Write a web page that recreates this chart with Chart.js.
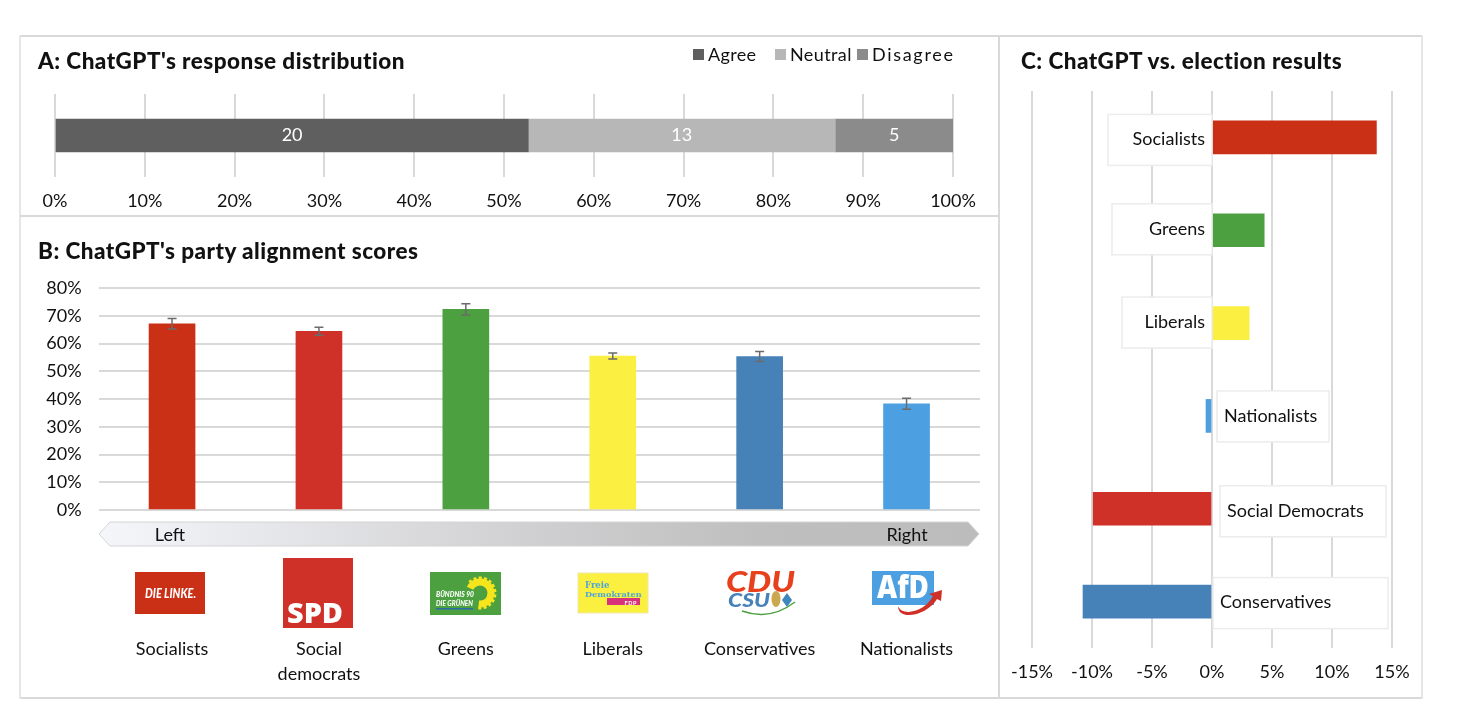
<!DOCTYPE html>
<html>
<head>
<meta charset="utf-8">
<title>ChatGPT party alignment</title>
<script src="https://cdn.jsdelivr.net/npm/chart.js@4"></script>
<style>
  html, body { margin: 0; background: #fff; }
  body { width: 1466px; height: 720px; position: relative; overflow: hidden; font-family: Lato, sans-serif; color: #111; }
  canvas { position: absolute; }
  .line { position: absolute; background: #d9d9d9; }
  .title { position: absolute; font-weight: 900; font-size: 22.5px; letter-spacing: .45px; line-height: 26px; white-space: nowrap; }
  .legend { position: absolute; font-size: 18px; line-height: 20px; white-space: nowrap; }
  .legend i { position: absolute; width: 11px; height: 11px; top: 5px; }
  svg { position: absolute; left: 0; top: 0; }
</style>
</head>
<body>
<div class="line" style="left:20px;top:35px;width:1402px;height:2px"></div>
<div class="line" style="left:20px;top:697px;width:1402px;height:2px"></div>
<div class="line" style="left:19px;top:35px;width:2px;height:664px;background:#e6e6e6"></div>
<div class="line" style="left:1421px;top:35px;width:2px;height:664px;background:#e6e6e6"></div>
<div class="line" style="left:998px;top:35px;width:2px;height:664px"></div>
<div class="line" style="left:20px;top:215px;width:979px;height:2px"></div>

<canvas id="chartA" width="978" height="180" style="left:20px;top:36px"></canvas>
<canvas id="chartB" width="978" height="480" style="left:20px;top:216px"></canvas>
<canvas id="chartC" width="421" height="660" style="left:1000px;top:36px"></canvas>

<div class="title" style="left:38px;top:48px">A: ChatGPT's response distribution</div>
<div class="title" style="left:38px;top:238px">B: ChatGPT's party alignment scores</div>
<div class="title" style="left:1021px;top:48px">C: ChatGPT vs. election results</div>
<div id="legendA"></div>

<svg width="1466" height="720" font-family="Lato, sans-serif">
  <defs>
    <linearGradient id="arrowFill" x1="0" x2="1" y1="0" y2="0">
      <stop offset="0" stop-color="#f5f6fa"/>
      <stop offset="0.5" stop-color="#cfcfd1"/>
      <stop offset="0.75" stop-color="#bfbfbf"/>
      <stop offset="1" stop-color="#bcbcbc"/>
    </linearGradient>
  </defs>
  <polygon points="99,534 110,522 968,522 979,534 968,546 110,546" fill="url(#arrowFill)" stroke="#d4d4d4"/>
  <text x="170" y="541" font-size="18" text-anchor="middle" fill="#111">Left</text>
  <text x="907" y="541" font-size="18" text-anchor="middle" fill="#111">Right</text>

  <!-- party logos -->
  <rect x="135" y="572" width="70" height="42" fill="#ca3015"/>
  <text x="145" y="598" font-size="12.5" font-weight="900" font-style="italic" textLength="51" lengthAdjust="spacingAndGlyphs" fill="#fff">DIE LINKE.</text>

  <rect x="283" y="558" width="70" height="70" fill="#cf3027"/>
  <text x="287" y="623" font-family="Open Sans, sans-serif" font-size="29" font-weight="800" textLength="56" lengthAdjust="spacingAndGlyphs" fill="#fff">SPD</text>

  <rect x="430" y="572" width="71" height="43" fill="#4ca03f"/>
  <circle cx="480" cy="593" r="11" fill="none" stroke="#f6e51c" stroke-width="7" stroke-dasharray="48 21" transform="rotate(205 480 593)"/>
  <circle cx="480" cy="593" r="15" fill="none" stroke="#f6e51c" stroke-width="3" stroke-dasharray="3 2.2 3 2.2 3 2.2 3 2.2 3 2.2 3 2.2 3 2.2 3 2.2 3 2.2 3 2.2 3 2.2 3 34" transform="rotate(225 480 593)"/>
  <text x="436" y="597" font-size="7.5" font-weight="900" font-style="italic" textLength="38" lengthAdjust="spacingAndGlyphs" fill="#fff">BÜNDNIS 90</text>
  <text x="436" y="606" font-size="7.5" font-weight="900" font-style="italic" textLength="37" lengthAdjust="spacingAndGlyphs" fill="#fff">DIE GRÜNEN</text>
  <rect x="436" y="608" width="37" height="1.5" fill="#2a6aa8"/>

  <rect x="578" y="573" width="70" height="40" fill="#fbef3f" stroke="#eee8b0"/>
  <text x="585" y="588" font-family="DejaVu Serif, serif" font-size="8.5" font-weight="700" fill="#4ea7d8">Freie</text>
  <text x="585" y="596.5" font-family="DejaVu Serif, serif" font-size="8.2" font-weight="700" fill="#4ea7d8">Demokraten</text>
  <rect x="607" y="598" width="33" height="7" fill="#d8327c"/>
  <text x="637" y="604.5" font-size="5.5" font-weight="700" text-anchor="end" letter-spacing=".6" fill="#fff">FDP</text>

  <text x="726" y="592" font-size="29" font-weight="900" font-style="italic" textLength="69" lengthAdjust="spacingAndGlyphs" fill="#e8401c">CDU</text>
  <text x="728" y="607" font-size="19" font-weight="900" font-style="italic" textLength="42" lengthAdjust="spacingAndGlyphs" fill="#4682b8">CSU</text>
  <ellipse cx="776" cy="599" rx="4.5" ry="8" fill="#c9a850"/>
  <polygon points="787,593 792,600 787,607 782,600" fill="#3f86bd"/>
  <path d="M742,611 Q770,621 795,602" fill="none" stroke="#4ca03f" stroke-width="1.5"/>

  <rect x="872" y="571" width="62" height="34" fill="#4c9fe0"/>
  <text x="877" y="598" font-family="Open Sans, sans-serif" font-size="31" font-weight="800" textLength="52" lengthAdjust="spacingAndGlyphs" fill="#fff">AfD</text>
  <path d="M898,606 C902,617 925,612 933,596 L929,594 L942,590 L941,601 L937,599 C928,615 898,622 898,606 Z" fill="#cf3027"/>
</svg>

<script>
// panel A
const responseNames = ['Agree', 'Neutral', 'Disagree']
const responseCounts = [20, 13, 5]
const responseShares = [52.7, 34.2, 13.1]
const responseColors = ['#5f5f5f', '#b7b7b7', '#8b8b8b']
const shareTicks = [0, 10, 20, 30, 40, 50, 60, 70, 80, 90, 100]

// panel B
const partyLabels = ['Socialists', ['Social', 'democrats'], 'Greens', 'Liberals', 'Conservatives', 'Nationalists']
const alignmentScores = [67.1, 64.4, 72.3, 55.5, 55.3, 38.3]
const alignmentError = [1.9, 1.45, 2, 1.1, 1.8, 2]
const partyColors = ['#ca3015', '#cf3027', '#4ca03f', '#fbef41', '#4682b8', '#4c9fe0']

// panel C
const resultParties = ['Socialists', 'Greens', 'Liberals', 'Nationalists', 'Social Democrats', 'Conservatives']
const resultDiff = [13.7, 4.35, 3.1, -0.5, -9.9, -10.75]
const resultColors = ['#ca3015', '#4ca03f', '#fbef41', '#4c9fe0', '#cf3027', '#4682b8']

const gridColor = '#d9d9d9'
const textColor = '#111'
Chart.defaults.font.family = 'Lato, sans-serif'
Chart.defaults.font.size = 18
Chart.defaults.color = textColor

// the labels should not push the plot area in
function noLabelPadding(scale) {
    scale.paddingLeft = 0
    scale.paddingRight = 0
}

// html legend for panel A, same order as the stack
const legendSpots = [693, 775, 857]
const legendTracking = [0.3, 0.4, 1.7]
document.getElementById('legendA').innerHTML = responseNames.map(function (name, i) {
    return '<div class="legend" style="left:' + legendSpots[i] + 'px;top:44px;padding-left:15px;letter-spacing:' + legendTracking[i] + 'px">' +
        '<i style="left:0;background:' + responseColors[i] + '"></i>' + name + '</div>'
}).join('')

// count labels inside the stacked bar
const countLabels = {
    id: 'countLabels',
    afterDatasetsDraw(chart) {
        const c = chart.ctx
        c.save()
        c.fillStyle = '#fff'
        c.font = '18px Lato, sans-serif'
        c.textAlign = 'center'
        c.textBaseline = 'middle'
        chart.data.datasets.forEach(function (ds, i) {
            const bar = chart.getDatasetMeta(i).data[0]
            c.fillText(responseCounts[i], (bar.x + bar.base) / 2, bar.y)
        })
        c.restore()
    }
}

new Chart(document.getElementById('chartA'), {
    type: 'bar',
    plugins: [countLabels],
    data: {
        labels: ['Responses'],
        datasets: responseNames.map(function (name, i) {
            return { label: name, data: [responseShares[i]], backgroundColor: responseColors[i], barThickness: 33 }
        })
    },
    options: {
        indexAxis: 'y',
        responsive: false,
        animation: false,
        layout: { padding: { left: 35, right: 45, top: 58 } },
        plugins: { legend: { display: false }, tooltip: { enabled: false } },
        scales: {
            x: {
                stacked: true, min: 0, max: 100,
                afterFit(scale) { scale.height = 39; noLabelPadding(scale) },
                afterBuildTicks(scale) { scale.ticks = shareTicks.map(function (v) { return { value: v } }) },
                grid: { color: gridColor, lineWidth: 2, drawTicks: false },
                border: { display: false },
                ticks: { padding: 13, maxRotation: 0, callback: function (v) { return v + '%' } }
            },
            y: { stacked: true, display: false }
        }
    }
})

// error bars for panel B
const errorBars = {
    id: 'errorBars',
    afterDatasetsDraw(chart) {
        const c = chart.ctx
        const y = chart.scales.y
        c.save()
        c.strokeStyle = '#6b6b6b'
        c.lineWidth = 1.5
        chart.getDatasetMeta(0).data.forEach(function (bar, i) {
            const top = y.getPixelForValue(alignmentScores[i] + alignmentError[i])
            const low = y.getPixelForValue(alignmentScores[i] - alignmentError[i])
            c.beginPath()
            c.moveTo(bar.x - 4.5, top); c.lineTo(bar.x + 4.5, top)
            c.moveTo(bar.x, top); c.lineTo(bar.x, low)
            c.moveTo(bar.x - 4.5, low); c.lineTo(bar.x + 4.5, low)
            c.stroke()
        })
        c.restore()
    }
}

new Chart(document.getElementById('chartB'), {
    type: 'bar',
    plugins: [errorBars],
    data: {
        labels: partyLabels,
        datasets: [{ data: alignmentScores, backgroundColor: partyColors, barThickness: 46 }]
    },
    options: {
        responsive: false,
        animation: false,
        layout: { padding: { right: 18, top: 72 } },
        plugins: { legend: { display: false }, tooltip: { enabled: false } },
        scales: {
            x: {
                afterFit(scale) { scale.height = 186; noLabelPadding(scale) },
                grid: { display: false },
                border: { display: false },
                ticks: { padding: 119, autoSkip: false, maxRotation: 0, font: { lineHeight: 1.38 } }
            },
            y: {
                min: 0, max: 80,
                afterFit(scale) { scale.width = 78.6 },
                grid: { color: gridColor, lineWidth: 2, drawTicks: false },
                border: { display: false },
                ticks: { stepSize: 10, padding: 17, callback: function (v) { return v + '%' } }
            }
        }
    }
})

// white label boxes next to the zero line, panel C
const boxWidths = [104, 100, 90, 112, 166, 175]
const boxGaps = [0, 0, 0, 5, 8, 1]
const boxShifts = [2, -1.5, -1, 0, 2, 1]
const resultLabels = {
    id: 'resultLabels',
    afterDatasetsDraw(chart) {
        const c = chart.ctx
        const zero = chart.scales.x.getPixelForValue(0)
        c.save()
        c.font = '18px Lato, sans-serif'
        c.textBaseline = 'middle'
        chart.getDatasetMeta(0).data.forEach(function (bar, i) {
            const right = resultDiff[i] > 0
            const left = right ? zero - boxWidths[i] : zero + boxGaps[i]
            const mid = bar.y + boxShifts[i]
            c.fillStyle = '#fff'
            c.strokeStyle = '#ececec'
            c.lineWidth = 1.5
            c.fillRect(left, mid - 25, boxWidths[i], 51)
            c.strokeRect(left, mid - 25, boxWidths[i], 51)
            c.fillStyle = textColor
            c.textAlign = right ? 'right' : 'left'
            c.fillText(resultParties[i], right ? zero - 7 : left + 7, mid)
        })
        c.restore()
    }
}

new Chart(document.getElementById('chartC'), {
    type: 'bar',
    plugins: [resultLabels],
    data: {
        labels: resultParties,
        datasets: [{ data: resultDiff, backgroundColor: resultColors, barThickness: 33 }]
    },
    options: {
        indexAxis: 'y',
        responsive: false,
        animation: false,
        layout: { padding: { left: 32, right: 29, top: 55 } },
        plugins: { legend: { display: false }, tooltip: { enabled: false } },
        scales: {
            x: {
                min: -15, max: 15,
                afterFit(scale) { scale.height = 48; noLabelPadding(scale) },
                grid: { color: gridColor, lineWidth: 2, drawTicks: false },
                border: { display: false },
                ticks: { stepSize: 5, padding: 13, maxRotation: 0, callback: function (v) { return v + '%' } }
            },
            y: { display: false }
        }
    }
})
</script>
</body>
</html>
